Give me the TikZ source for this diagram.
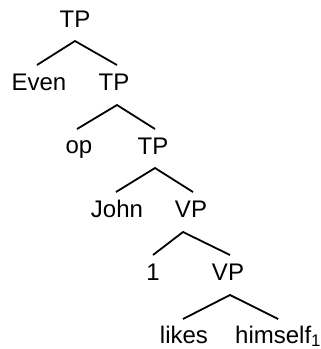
\documentclass[tikz,border=0pt]{standalone}
\usepackage{fontspec}
\setmainfont{Liberation Sans}
\usetikzlibrary{calc}
\begin{document}
\begin{tikzpicture}[x=1pt,y=-1pt,
  lbl/.style={anchor=base,inner sep=0pt,font=\fontsize{24}{28}\selectfont},
  branch/.style={line width=1.8pt,black}]
\useasboundingbox[fill=white] (0,0) rectangle (321,349);
\node[lbl] (tp1) at (75,27) {TP};
\node[lbl] (even) at (39,90) {Even};
\node[lbl] (tp2) at (114,90) {TP};
\node[lbl] (op) at (79,153) {op};
\node[lbl] (tp3) at (153,154) {TP};
\node[lbl] (john) at (117,217) {John};
\node[lbl] (vp1) at (191,217) {VP};
\node[lbl] (one) at (153,280) {1};
\node[lbl] (vp2) at (228,280) {VP};
\node[lbl] (likes) at (184,343) {likes};
\node[lbl,anchor=base west] (himself) at (235,343) {himself\textsubscript{1}};
\draw[branch] ($(even.base)+(-2,-25)$) -- ($(tp1.base)+(0,14)$) -- ($(tp2.base)+(3,-25)$);
\draw[branch] ($(op.base)+(-2,-24)$) -- ($(tp2.base)+(3,15)$) -- ($(tp3.base)+(2,-25)$);
\draw[branch] ($(john.base)+(-1,-25)$) -- ($(tp3.base)+(2,14)$) -- ($(vp1.base)+(2,-25)$);
\draw[branch] ($(one.base)+(0,-25)$) -- ($(vp1.base)+(-8,15)$) -- ($(vp2.base)+(2,-25)$);
\draw[branch] ($(likes.base)+(-1,-24)$) -- ($(vp2.base)+(2,15)$) -- ($(himself.base)+(0,-24)$);
\end{tikzpicture}
\end{document}
